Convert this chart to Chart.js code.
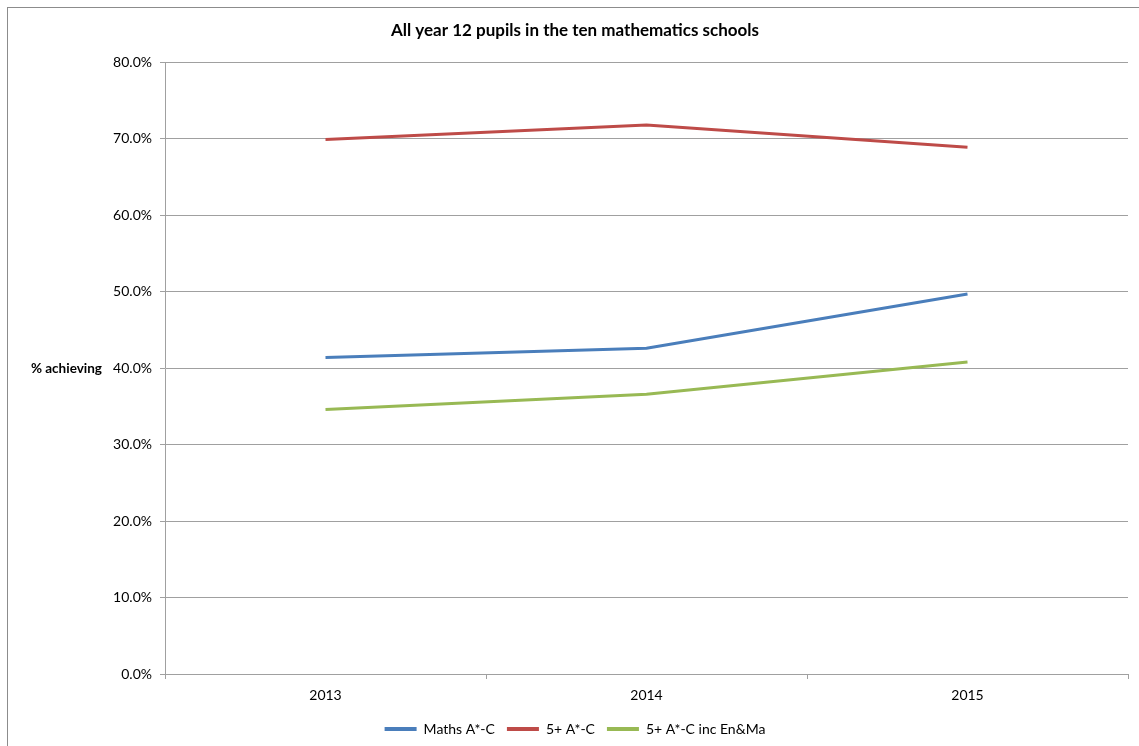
<!DOCTYPE html>
<html>
<head>
<meta charset="utf-8">
<script src="https://cdn.jsdelivr.net/npm/chart.js@4.4.1/dist/chart.umd.min.js"></script>
<style>
  html, body { margin: 0; padding: 0; background: #fff; }
  #wrap { width: 1139px; height: 746px; }
</style>
</head>
<body>
<div id="wrap"><canvas id="chart" width="1139" height="746"></canvas></div>
<script>
// data
var years = ["2013", "2014", "2015"];
var mathsAC = [41.4, 42.6, 49.7];
var fivePlusAC = [69.9, 71.8, 68.9];
var fivePlusEnMa = [34.6, 36.6, 40.8];

var FONT = "Lato, 'Liberation Sans', sans-serif";

// frame round the chart and the horizontal y axis title
var extras = {
  id: 'extras',
  beforeDraw: function (chart) {
    var c = chart.ctx;
    c.save();
    c.strokeStyle = '#8c8c8c';
    c.lineWidth = 1;
    c.strokeRect(7.5, 7.5, 1300, 900);
    c.restore();
  },
  afterDraw: function (chart) {
    var c = chart.ctx, a = chart.chartArea;
    c.save();
    c.font = "bold 13.5px " + FONT;
    c.fillStyle = '#000';
    c.textAlign = 'right';
    c.textBaseline = 'middle';
    c.fillText('% achieving', 102, (a.top + a.bottom) / 2);
    c.restore();
  }
};

var ctx = document.getElementById('chart').getContext('2d');
var chart = new Chart(ctx, {
  type: 'line',
  data: {
    labels: years,
    datasets: [
      { label: "Maths A*-C", data: mathsAC, borderColor: "#4a7ebb", backgroundColor: "#4a7ebb" },
      { label: "5+ A*-C", data: fivePlusAC, borderColor: "#be4b48", backgroundColor: "#be4b48" },
      { label: "5+ A*-C inc En&Ma", data: fivePlusEnMa, borderColor: "#98b954", backgroundColor: "#98b954" }
    ]
  },
  options: {
    responsive: false,
    animation: false,
    layout: { padding: { left: 22, right: 11, top: 0, bottom: 0 } },
    elements: {
      line: { borderWidth: 3, tension: 0 },
      point: { radius: 0, hoverRadius: 0 }
    },
    scales: {
      x: {
        offset: true,
        grid: { offset: true, drawOnChartArea: false, drawTicks: true, tickLength: 5, color: '#a0a0a0' },
        border: { color: '#a0a0a0' },
        ticks: { color: '#000', font: { family: FONT, size: 14 }, padding: 8 },
        afterFit: function (s) { s.height = 36; }
      },
      y: {
        min: 0,
        max: 80,
        ticks: {
          stepSize: 10,
          color: '#000',
          font: { family: FONT, size: 14 },
          padding: 8,
          callback: function (v) { return v.toFixed(1) + '%'; }
        },
        grid: { color: '#a0a0a0', tickLength: 5 },
        border: { color: '#a0a0a0' },
        afterFit: function (s) { s.width = 143; }
      }
    },
    plugins: {
      title: {
        display: true,
        text: 'All year 12 pupils in the ten mathematics schools',
        color: '#000',
        font: { family: FONT, size: 17, weight: 'bold' },
        padding: { top: 20, bottom: 22 }
      },
      legend: {
        position: 'bottom',
        labels: {
          usePointStyle: true,
          pointStyle: 'line',
          pointStyleWidth: 32,
          color: '#000',
          font: { family: FONT, size: 14 },
          padding: 12,
          generateLabels: function (chart) {
            var items = Chart.defaults.plugins.legend.labels.generateLabels(chart);
            items.forEach(function (it) {
              var ds = chart.data.datasets[it.datasetIndex];
              it.strokeStyle = ds.borderColor;
              it.fillStyle = ds.borderColor;
              it.lineWidth = 4;
              it.pointStyle = 'line';
            });
            return items;
          }
        }
      },
      tooltip: { enabled: false }
    }
  },
  plugins: [extras]
});
</script>
</body>
</html>
